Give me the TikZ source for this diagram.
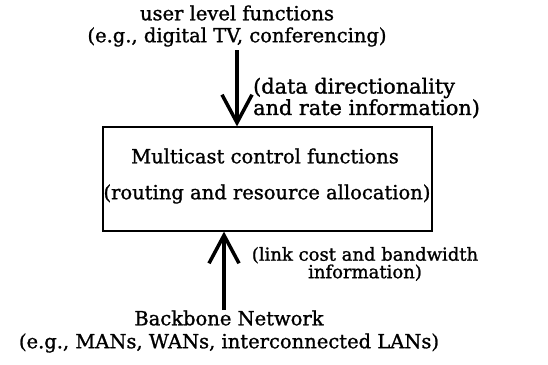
\documentclass[tikz,border=0pt]{standalone}
\usepackage{fontspec}
\setmainfont{DejaVu Serif}[BoldFont=DejaVu Serif, BoldFeatures={FakeBold=1.2}]
\usetikzlibrary{arrows.meta}
\tikzset{
  lbl/.style={inner sep=0pt, align=center, font=\bfseries\fontsize{19.5}{21}\selectfont},
  side/.style={inner sep=0pt, align=left, anchor=west, font=\bfseries\fontsize{20.8}{17.5}\selectfont},
  note/.style={inner sep=0pt, align=center, font=\bfseries\fontsize{18}{12.5}\selectfont},
  ctrlbox/.style={draw, line width=1.2pt, minimum width=329pt, minimum height=104pt, inner sep=0pt},
  flow/.style={line width=3.5pt, -{Straight Barb[length=28pt, width=30pt, line width=3.5pt]}}
}
\begin{document}
\begin{tikzpicture}[x=1pt, y=-1pt]
\useasboundingbox (0,0) rectangle (548,364);

% user level at the top
\node[lbl] (user1) at (237,13) {user level functions};
\node[lbl] (user2) at (237,37) {(e.g., digital TV, conferencing)};

% central control box
\node[ctrlbox] (ctrl) at (267.5,179) {};
\node[lbl] (ctrl1) at (265,156) {Multicast control functions};
\node[lbl] (ctrl2) at (267,194) {(routing and resource allocation)};

% backbone at the bottom
\node[lbl] (bb1) at (229,318) {Backbone Network};
\node[lbl] (bb2) at (229,343) {(e.g., MANs, WANs, interconnected LANs)};

% downward information flow
\coordinate (dstart) at (237,50);
\draw[flow] (dstart) -- (dstart |- ctrl.north);
\node[side] (dlbl) at (253,98) {(data directionality\\and rate information)};

% upward information flow
\coordinate (ustart) at (224,310);
\draw[flow] (ustart) -- (ustart |- ctrl.south);
\node[note] (ulbl) at (365,264) {(link cost and bandwidth\\information)};
\end{tikzpicture}
\end{document}
